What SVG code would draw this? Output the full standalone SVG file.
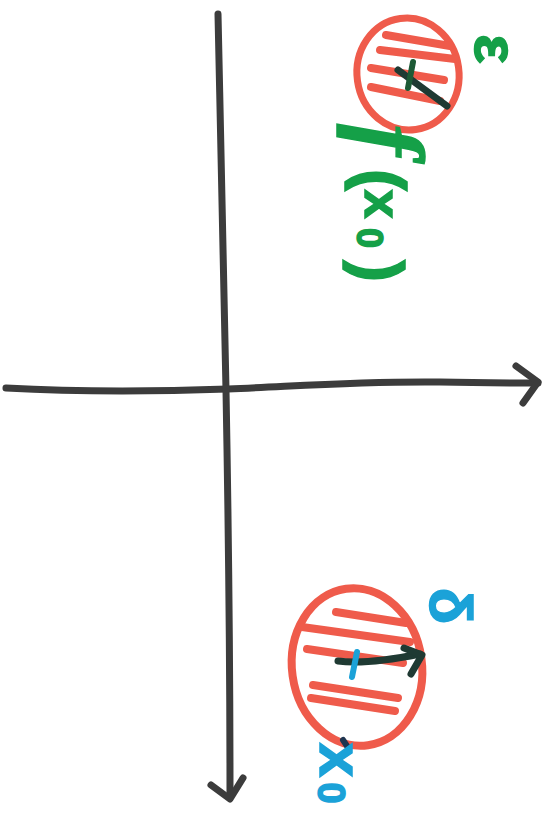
<svg xmlns="http://www.w3.org/2000/svg" width="557" height="821" viewBox="0 0 557 821">
<style>
.ax{fill:none;stroke:#3c3c3c;stroke-width:7;stroke-linecap:round;stroke-linejoin:round}
.red{fill:none;stroke:#ef5b4b;stroke-linecap:round;stroke-linejoin:round}
.hatch{fill:none;stroke:#ef5b4b;stroke-width:8;stroke-linecap:round}
.dk{fill:none;stroke:#1f3a33;stroke-width:7;stroke-linecap:round;stroke-linejoin:round}
.g{fill:#15a048;stroke:#15a048;stroke-width:1.5;font-family:"Liberation Sans",Arial,sans-serif;font-weight:bold;text-anchor:middle}
.b{fill:#1ba2d8;stroke:#1ba2d8;stroke-width:1.5;font-family:"Liberation Sans",Arial,sans-serif;font-weight:bold;text-anchor:middle}
.it{font-family:"Liberation Serif","Times New Roman",serif;font-style:italic}
</style>
<rect width="557" height="821" fill="#ffffff"/>
<g id="connectors">
  <path id="x-axis" class="ax" d="M6,388 C80,392 170,391 228,389 C300,386 360,381 440,382 C480,383 510,383 538,383"/>
  <path class="ax" d="M516,366 L538,382 L523,403"/>
  <path id="y-axis" class="ax" d="M218,14 C221,150 224,300 226,390 C228,500 230,650 230,797"/>
  <path class="ax" d="M211,785 L230,799 L243,778"/>
</g>
<g id="epsilon-neighborhood">
  <ellipse class="red" cx="408" cy="74" rx="51" ry="56" stroke-width="7" transform="rotate(-8 408 74)"/>
  <path class="hatch" d="M386,35 L450,46 M380,50 L455,59 M371,68 L444,80 M371,87 L440,101"/>
  <path class="dk" d="M398,70 L447,106"/>
  <path d="M413,62 L408,88" stroke="#1d5a36" stroke-width="6" stroke-linecap="round" fill="none"/>
  <text class="g" font-size="62" transform="translate(475,49) rotate(90)">ε</text>
</g>
<g id="f-x0-label">
  <text class="g it" font-size="95" transform="translate(357,140) rotate(90)">f</text>
  <text class="g" font-size="66" transform="translate(359,180) rotate(90)">(</text>
  <text class="g" font-size="52" transform="translate(365,204) rotate(90)">x</text>
  <text class="g" font-size="36" transform="translate(357,238) rotate(90)">0</text>
  <text class="g" font-size="66" transform="translate(357,271) rotate(90)">)</text>
</g>
<g id="delta-neighborhood">
  <ellipse class="red" cx="357" cy="667" rx="65" ry="79" stroke-width="8" transform="rotate(-8 357 667)"/>
  <path class="hatch" d="M336,612 L406,623 M302,627 L410,642 M307,649 L403,663 M313,685 L398,698 M311,698 L395,711"/>
  <path class="dk" stroke="#1f3550" d="M338,661 C360,664 390,660 420,654"/>
  <path class="dk" stroke="#1f3550" d="M404,648 L422,655 L411,674"/>
  <path d="M357,652 L352,677" stroke="#1ba2d8" stroke-width="6" stroke-linecap="round" fill="none"/>
  <path d="M343,740 L347,746" stroke="#1f3550" stroke-width="6" stroke-linecap="round" fill="none"/>
  <text class="b" font-size="60" transform="translate(430,606) rotate(90)">δ</text>
</g>
<g id="x0-label">
  <text class="b" font-size="62" transform="translate(320,760) rotate(90)">x</text>
  <text class="b" font-size="38" transform="translate(318,793) rotate(90)">0</text>
</g>
</svg>
